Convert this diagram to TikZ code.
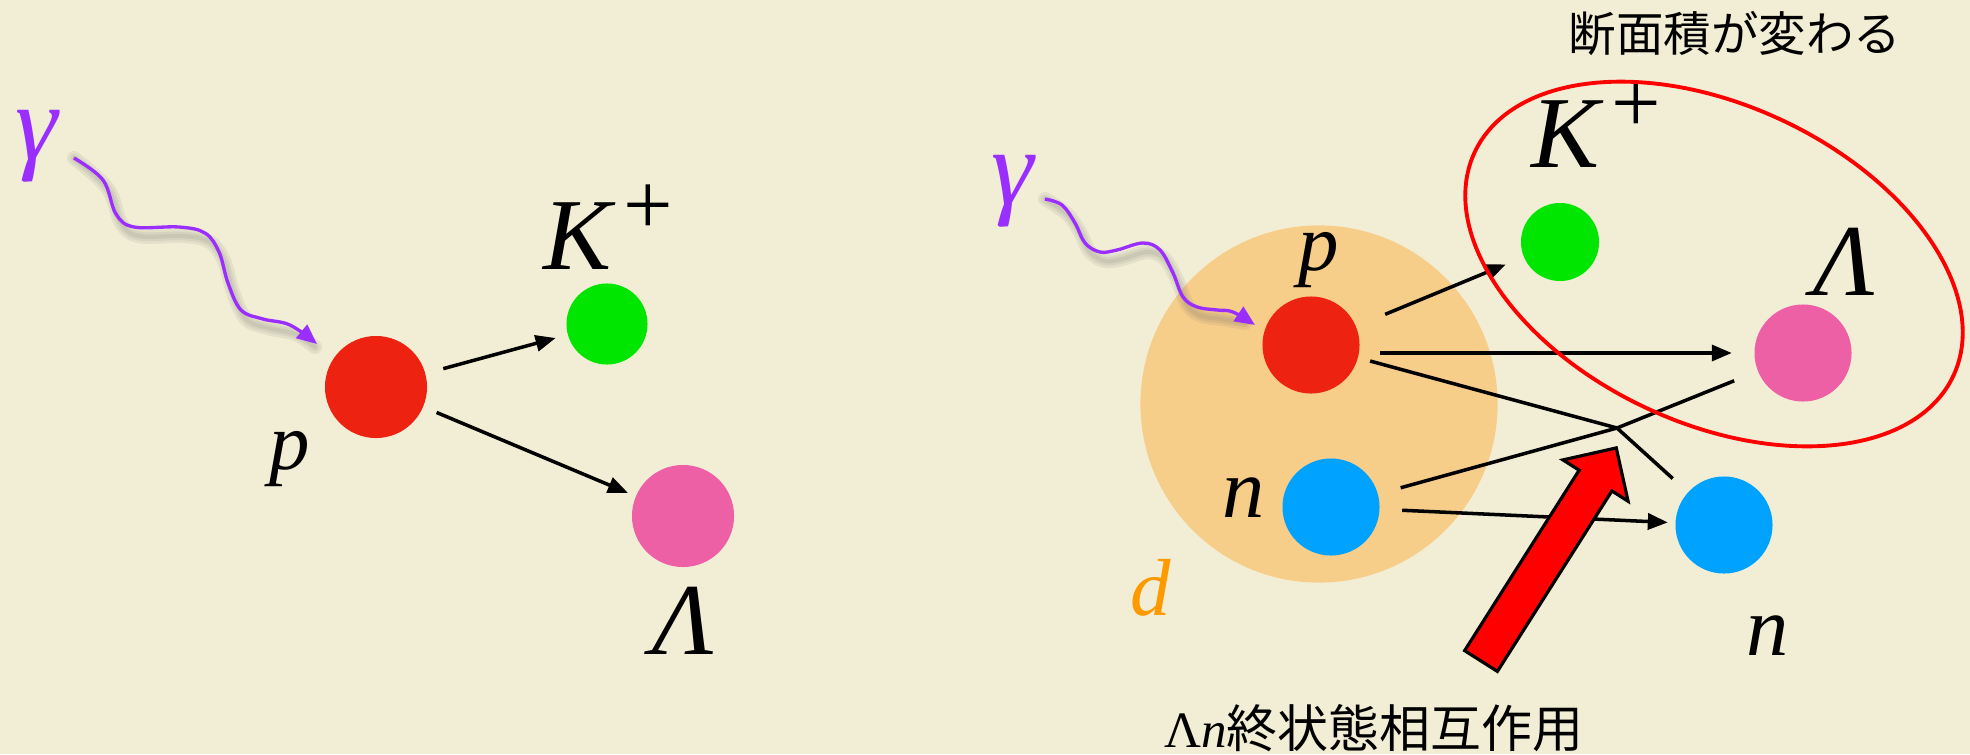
\RequirePackage{fix-cm}
\documentclass[tikz,border=0pt]{standalone}
\usepackage{amsmath}
\usepackage{fontspec}
\newfontfamily\jpfont{Noto Sans CJK JP}
\newfontfamily\labfont{Liberation Serif}
\usepackage{tikz}
\usetikzlibrary{arrows.meta}
\definecolor{bgcol}{HTML}{F2EED5}
\definecolor{dcol}{HTML}{F7CD8A}
\definecolor{dtxt}{HTML}{FF9900}
\definecolor{pcol}{HTML}{EE2211}
\definecolor{kcol}{HTML}{00E600}
\definecolor{lcol}{HTML}{EE60A6}
\definecolor{ncol}{HTML}{00A2FF}
\definecolor{wcol}{HTML}{9A2EFF}
\tikzset{
  ball/.style={circle, inner sep=0pt, minimum size=#1},
  lab/.style={anchor=base, inner sep=0pt, font=\labfont\itshape\fontsize{#1}{#1}\selectfont},
  lab/.default=24,
  glab/.style={lab=30.5, text=wcol},
  jlab/.style={inner sep=0pt, font=\jpfont\fontsize{#1}{#1}\selectfont},
  arr/.style={-{Triangle[length=0.2cm, width=0.16cm]}, line width=1pt},
  fsiline/.style={line width=1pt},
  wave/.style={wcol, line width=0.95pt, -{Triangle[length=0.2cm, width=0.17cm]}},
  wshadow/.style={black!60, line width=#1, opacity=0.1, line cap=round, line join=round}
}
\newcommand{\kplus}{K\kern0.12em\raisebox{0.34em}{\upshape\fontsize{25}{25}\selectfont +}}

\begin{document}
\begin{tikzpicture}[x=0.01cm, y=-0.01cm]
    \useasboundingbox (0,0) rectangle (1970,754);
    \fill[bgcol] (0,0) rectangle (1970,754);

    % left: gamma p -> K+ Lambda
    \node[ball=1.02cm, fill=pcol] (pL) at (376,387) {};
    \node[ball=0.81cm, fill=kcol] (kL) at (607,324) {};
    \node[ball=1.02cm, fill=lcol] (lamL) at (683,516) {};
    \node[glab] (gL) at (37,159) {γ};
    \node[lab=23] (pLt) at (290,469) {p};
    \node[lab=29] (kLt) at (608,269) {\kplus};
    \node[lab=29] (lamLt) at (683,654) {Λ};

    \coordinate (wL0) at (74,158);
    \coordinate (wL1) at (317,344);
    \foreach \w in {4pt,2.5pt,1.2pt}
      \draw[wshadow=\w, shift={(5,9)}] plot[smooth, tension=0.6] coordinates {(wL0) (103,180) (116,214) (134,227) (179,227) (205,233) (219,252) (228,283) (241,310) (263,319) (290,325) (310,338)};
    \draw[wave] plot[smooth, tension=0.6] coordinates {(wL0) (103,180) (116,214) (134,227) (179,227) (205,233) (219,252) (228,283) (241,310) (263,319) (290,325) (wL1)};

    \draw[arr, shorten <=0.18cm, shorten >=0.12cm] (pL) -- (kL);
    \draw[arr, shorten <=0.14cm, shorten >=0.08cm] (pL) -- (lamL);

    % right: gamma d -> K+ Lambda n
    \node[circle, fill=dcol, minimum size=3.57cm, inner sep=0pt] (dR) at (1319,404) {};
    \node[ball=0.97cm, fill=pcol] (pR) at (1311,345) {};
    \node[ball=0.97cm, fill=ncol] (nR) at (1331,507) {};
    \node[ball=0.78cm, fill=kcol] (kR) at (1560,242) {};
    \node[ball=0.97cm, fill=lcol] (lamR) at (1803,353) {};
    \node[ball=0.97cm, fill=ncol] (n2R) at (1724,525) {};
    \node[glab] (gR) at (1013,204) {γ};
    \node[lab=23] (pRt) at (1319,270) {p};
    \node[lab] (nRt) at (1244,517) {n};
    \node[lab=23, text=dtxt] (dRt) at (1151,615) {d};
    \node[lab=29] (kRt) at (1596,167) {\kplus};
    \node[lab=29] (lamRt) at (1844,295) {Λ};
    \node[lab] (n2Rt) at (1768,655) {n};

    \coordinate (wR0) at (1045,199);
    \coordinate (wR1) at (1255,325);
    \foreach \w in {4pt,2.5pt,1.2pt}
      \draw[wshadow=\w, shift={(5,9)}] plot[smooth, tension=0.6] coordinates {(wR0) (1062,205) (1075,223) (1085,243) (1100,252) (1117,250) (1143,243) (1160,250) (1173,273) (1183,297) (1197,307) (1217,310) (1240,314)};
    \draw[wave] plot[smooth, tension=0.6] coordinates {(wR0) (1062,205) (1075,223) (1085,243) (1100,252) (1117,250) (1143,243) (1160,250) (1173,273) (1183,297) (1197,307) (1217,310) (1233,312) (wR1)};

    \coordinate (fsi) at (1617,428);
    \draw[arr, shorten <=0.31cm, shorten >=0.19cm] (pR) -- (kR);
    \draw[arr, shorten <=0.20cm, shorten >=0.22cm] (pR.east |- lamR) -- (lamR.west);
    \draw[fsiline, shorten <=0.12cm, shorten >=0.20cm] (pR) -- (fsi) -- (n2R);
    \draw[fsiline, shorten <=0.23cm, shorten >=0.25cm] (nR) -- (fsi) -- (lamR);
    \draw[arr, shorten <=0.22cm, shorten >=0.07cm] (nR) -- (n2R);

    % cross section region
    \draw[red, line width=1.1pt, rotate around={-25:(1714,264)}] (1714,264) ellipse [x radius=2.64cm, y radius=1.59cm];
    \node[jlab=13.5] (xsec) at (1735,34) {断面積が変わる};

    % FSI pointer
    \begin{scope}[shift={(1481,661)}, rotate=57.6]
      \draw[fill=red, line width=0.9pt, line join=miter] (0,-19.4) -- (213.7,-19.4) -- (213.7,-38.6) -- (252.4,0) -- (213.7,38.6) -- (213.7,19.4) -- (0,19.4) -- cycle;
    \end{scope}
    \node[jlab=14.5] (fsit) at (1374,728) {{\labfont Λ\textit{n}}終状態相互作用};
\end{tikzpicture}
\end{document}
